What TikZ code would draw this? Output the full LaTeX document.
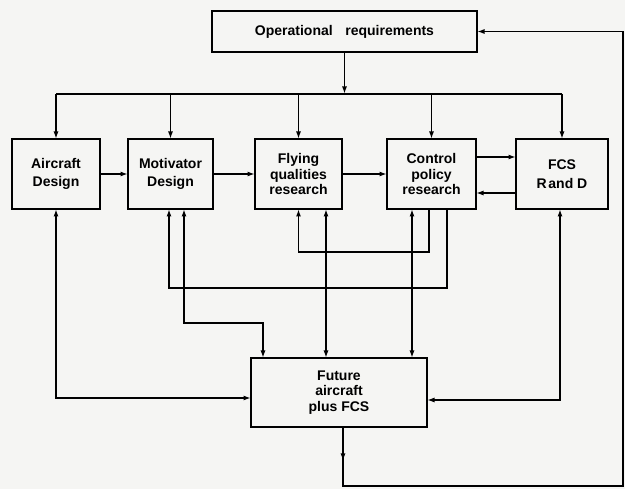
\documentclass[tikz,border=0pt]{standalone}
\usepackage{fontspec}
\setmainfont{Liberation Sans}
\usetikzlibrary{arrows.meta}
\definecolor{bgc}{RGB}{245,245,243}
\begin{document}
\begin{tikzpicture}[x=1pt,y=-1pt,
  box/.style={draw, line width=2pt, inner sep=0pt, outer sep=0pt, align=center,
    font=\bfseries\fontsize{14}{15.5}\selectfont},
  conn/.style={line width=1.5pt},
  arr/.style={conn, -{Latex[length=7.5pt,width=5pt]}},
  barr/.style={conn, {Latex[length=7.5pt,width=5pt]}-{Latex[length=7.5pt,width=5pt]}}]
\fill[bgc] (0,0) rectangle (625,489);
\useasboundingbox (0,0) rectangle (625,489);
% boxes
\node[box, minimum width=265pt, minimum height=41pt] (op) at (344.5,31.5) {Operational\hspace{0.9em}requirements};
\node[box, minimum width=88pt, minimum height=70pt] (ad) at (56,174) {Aircraft\\[3pt]Design};
\node[box, minimum width=85pt, minimum height=70pt] (md) at (170.5,174) {Motivator\\[3pt]Design};
\node[box, minimum width=87pt, minimum height=70pt] (fq) at (298.5,174) {Flying\\qualities\\research};
\node[box, minimum width=89pt, minimum height=70pt] (cp) at (431.5,174) {Control\\policy\\research};
\node[box, minimum width=92pt, minimum height=70pt] (fcs) at (562,174) {FCS\\[3pt]R\hspace{0.12em}and D};
\node[box, minimum width=176pt, minimum height=69pt] (fut) at (339,392.5) {Future\\aircraft\\plus FCS};
% distribution bus
\coordinate (bus) at (344.5,94);
\draw[arr] (op.south) -- (bus);
\draw[conn] (ad.north |- bus) -- (fcs.north |- bus);
\foreach \n in {ad,md,fq,cp,fcs} \draw[arr] (\n.north |- bus) -- (\n.north);
% horizontal chain
\draw[arr] (ad.east) -- (md.west);
\draw[arr] (md.east) -- (fq.west);
\draw[arr] (fq.east) -- (cp.west);
\draw[arr] ([yshift=17pt]cp.east) -- ([yshift=17pt]cp.east -| fcs.west);
\draw[arr] ([yshift=-19pt]fcs.west) -- ([yshift=-19pt]fcs.west -| cp.east);
% feedback from control policy
\draw[arr] ([xshift=-2.5pt]cp.south) -- ++(0,43) -| (fq.south);
\draw[arr] ([xshift=15.5pt]cp.south) -- ++(0,79) -| ([xshift=-1.5pt]md.south);
% links with future aircraft
\draw[barr] (ad.south) |- ([yshift=-5.5pt]fut.west);
\draw[barr] ([xshift=-2pt]fcs.south) |- ([yshift=-7.5pt]fut.east);
\draw[barr] ([xshift=13.5pt]md.south) -- ++(0,114) -| ([xshift=-76pt]fut.north);
\draw[barr] ([xshift=27.5pt]fq.south) -- ([xshift=27.5pt]fq.south |- fut.north);
\draw[barr] ([xshift=-19.5pt]cp.south) -- ([xshift=-19.5pt]cp.south |- fut.north);
% return loop
\coordinate (rc) at (623,31.5);
\draw[arr] ([xshift=4pt]fut.south) -- ++(0,34);
\draw[conn] ([xshift=4pt]fut.south) -- ++(0,59) -| (rc);
\draw[arr] (rc) -- (op.east);
\end{tikzpicture}
\end{document}
